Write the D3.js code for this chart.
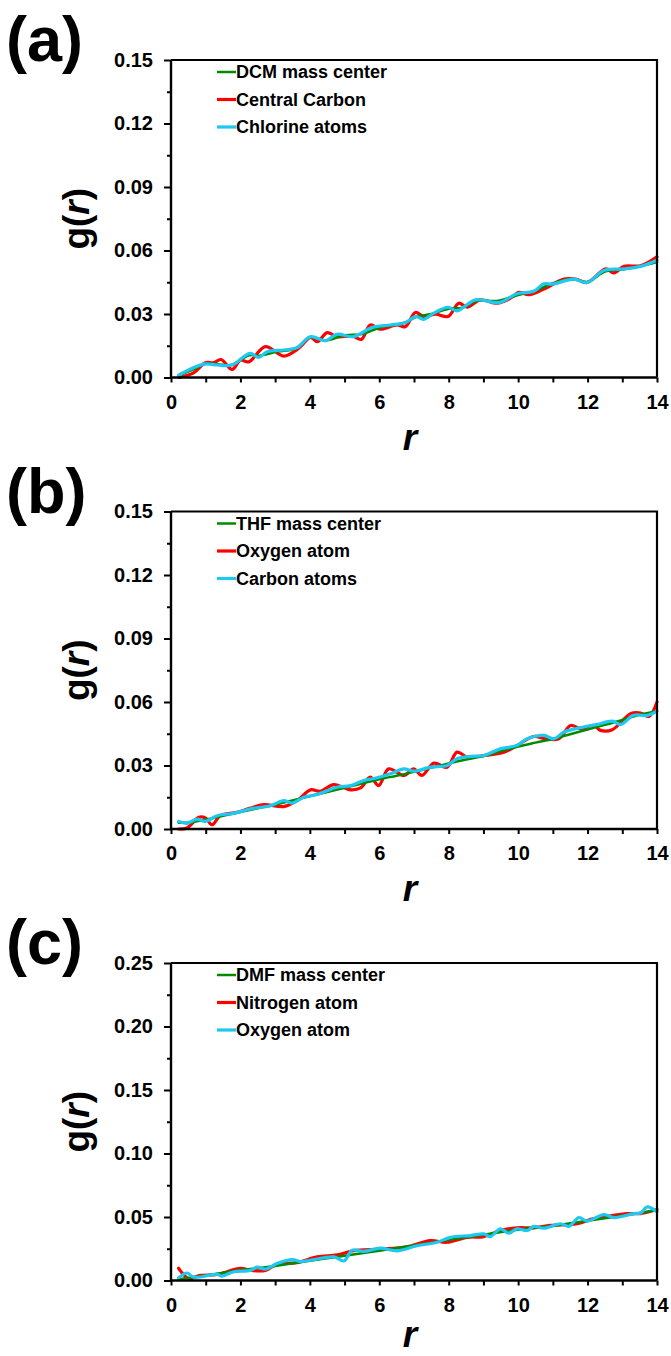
<!DOCTYPE html>
<html>
<head>
<meta charset="utf-8">
<script src="https://cdn.jsdelivr.net/npm/d3@7"></script>
<style>
  html, body { margin: 0; padding: 0; background: #ffffff; }
  svg { display: block; }
  text { font-family: "Liberation Sans", Arial, sans-serif; font-weight: bold; fill: #000; }
</style>
</head>
<body>
<svg id="chart" width="671" height="1356"></svg>
<script>
// ---------------- data ----------------
const panelLabels = ["(a)", "(b)", "(c)"];
const legendA = ["DCM mass center", "Central Carbon", "Chlorine atoms"];
const legendB = ["THF mass center", "Oxygen atom", "Carbon atoms"];
const legendC = ["DMF mass center", "Nitrogen atom", "Oxygen atom"];

const xMajorTicks = [0, 2, 4, 6, 8, 10, 12, 14];
const xMinorTicks = [1, 3, 5, 7, 9, 11, 13];
const yMajorTicksAB = [0, 0.03, 0.06, 0.09, 0.12, 0.15];
const yMinorTicksAB = [0.015, 0.045, 0.075, 0.105, 0.135];
const yMajorTicksC = [0, 0.05, 0.10, 0.15, 0.20, 0.25];
const yMinorTicksC = [0.025, 0.075, 0.125, 0.175, 0.225];

// panel (a): DCM
const greenA = [[0.22,0.001],[0.6,0.0035],[1.0,0.0065],[1.4,0.0062],[1.75,0.006],[2.25,0.0105],[2.55,0.0103],[3.0,0.012],[3.6,0.0138],[4.0,0.019],[4.45,0.0175],[5.0,0.020],[5.5,0.0205],[6.0,0.0235],[6.75,0.026],[7.05,0.0285],[7.5,0.030],[8.0,0.0325],[8.4,0.033],[8.8,0.0362],[9.4,0.0362],[10.0,0.039],[10.5,0.041],[11.0,0.0445],[11.6,0.0465],[12.0,0.0452],[12.5,0.050],[13.0,0.051],[13.5,0.0525],[14.0,0.0545]];
const redA = [[0.22,0.0],[0.65,0.0022],[0.99,0.007],[1.23,0.007],[1.44,0.0085],[1.76,0.0038],[2.0,0.0082],[2.24,0.0074],[2.72,0.0146],[3.25,0.0101],[3.68,0.0138],[4.02,0.019],[4.21,0.0169],[4.5,0.0212],[4.78,0.0193],[5.22,0.0196],[5.48,0.018],[5.74,0.0248],[6.03,0.0228],[6.51,0.0248],[6.75,0.024],[7.04,0.0307],[7.28,0.0288],[7.62,0.0299],[7.98,0.0288],[8.29,0.0351],[8.53,0.0332],[8.91,0.0367],[9.39,0.0351],[9.78,0.0375],[10.02,0.0402],[10.31,0.0391],[10.79,0.0422],[11.32,0.0465],[11.65,0.0465],[11.99,0.0449],[12.52,0.0513],[12.76,0.0494],[13.05,0.0525],[13.53,0.0528],[14.0,0.057]];
const cyanA = [[0.22,0.0011],[0.94,0.0063],[1.33,0.0059],[1.76,0.0059],[2.27,0.0114],[2.53,0.0095],[2.77,0.0122],[3.25,0.013],[3.63,0.0141],[4.02,0.0193],[4.45,0.0174],[4.78,0.0204],[5.26,0.0193],[5.79,0.0236],[6.32,0.0248],[6.75,0.0259],[7.04,0.0288],[7.28,0.0275],[7.57,0.0304],[7.98,0.0332],[8.24,0.0315],[8.77,0.0367],[9.44,0.0354],[9.97,0.0396],[10.45,0.0407],[10.74,0.0443],[10.98,0.0441],[11.6,0.0465],[11.99,0.0449],[12.47,0.0506],[13.05,0.0513],[13.53,0.0525],[14.0,0.0554]];

// panel (b): THF
const greenB = [[0.22,0.003],[0.5,0.003],[1.0,0.0045],[1.5,0.0062],[2.0,0.008],[2.5,0.0098],[3.0,0.0115],[3.5,0.0135],[4.0,0.0155],[4.5,0.0175],[5.0,0.0195],[5.5,0.0215],[6.0,0.0235],[6.5,0.0252],[7.0,0.027],[7.5,0.029],[8.0,0.031],[8.5,0.0328],[9.0,0.0345],[9.5,0.0368],[10.0,0.039],[10.5,0.0408],[11.0,0.0425],[11.5,0.0448],[12.0,0.047],[12.5,0.0492],[13.0,0.0515],[13.5,0.054],[14.0,0.0555]];
const redB = [[0.22,0.0],[0.46,0.0005],[0.8,0.0055],[0.99,0.0052],[1.18,0.002],[1.42,0.0063],[1.9,0.0079],[2.29,0.0099],[2.67,0.0115],[3.25,0.0106],[3.63,0.0134],[4.02,0.0185],[4.3,0.0178],[4.69,0.021],[5.17,0.0185],[5.46,0.0194],[5.74,0.0245],[5.98,0.0205],[6.27,0.0284],[6.71,0.0253],[6.99,0.0284],[7.23,0.0253],[7.57,0.0311],[7.95,0.0292],[8.24,0.0363],[8.53,0.034],[9.01,0.0347],[9.59,0.0363],[9.97,0.0395],[10.45,0.0437],[10.79,0.0426],[11.17,0.0426],[11.51,0.0489],[11.8,0.0474],[12.18,0.0489],[12.37,0.0466],[12.71,0.0469],[13.24,0.0545],[13.53,0.0548],[13.77,0.0532],[14.0,0.060]];
const cyanB = [[0.22,0.0035],[0.46,0.0027],[0.75,0.0047],[0.99,0.0036],[1.33,0.0063],[1.81,0.0074],[2.29,0.0095],[2.86,0.011],[3.25,0.0134],[3.49,0.0122],[3.82,0.015],[4.21,0.0163],[4.78,0.0197],[5.17,0.0205],[5.55,0.0229],[5.94,0.0242],[6.32,0.0261],[6.71,0.0284],[6.99,0.0273],[7.47,0.0292],[7.95,0.030],[8.24,0.0332],[8.63,0.0343],[9.01,0.0347],[9.49,0.0379],[9.97,0.0395],[10.26,0.0426],[10.74,0.0442],[11.03,0.0426],[11.32,0.0458],[11.89,0.0482],[12.28,0.0494],[12.71,0.051],[12.95,0.0494],[13.33,0.0537],[13.72,0.0537],[14.0,0.0557]];

// panel (c): DMF
const greenC = [[0.22,0.001],[1.0,0.004],[2.0,0.008],[3.0,0.0115],[4.0,0.0155],[5.0,0.0195],[6.0,0.0235],[7.0,0.0275],[8.0,0.032],[9.0,0.036],[10.0,0.040],[11.0,0.043],[12.0,0.047],[13.0,0.051],[14.0,0.0555]];
const redC = [[0.22,0.0096],[0.51,0.0016],[0.85,0.004],[1.33,0.0048],[2.0,0.0096],[2.29,0.008],[2.72,0.008],[3.05,0.0128],[3.63,0.0141],[4.21,0.0186],[4.78,0.0202],[5.26,0.0234],[6.03,0.0247],[6.8,0.0266],[7.47,0.0314],[7.95,0.0301],[8.53,0.034],[9.01,0.0346],[9.49,0.0394],[9.97,0.0415],[10.45,0.0415],[10.93,0.0434],[11.7,0.0447],[12.18,0.0487],[12.57,0.0505],[13.14,0.0527],[13.53,0.0527],[14.0,0.0559]];
const cyanC = [[0.22,0.0021],[0.46,0.0059],[0.65,0.0027],[1.33,0.0048],[1.47,0.0035],[1.81,0.0069],[2.29,0.008],[2.48,0.0106],[2.72,0.009],[3.05,0.0133],[3.49,0.0165],[3.73,0.0149],[4.11,0.0165],[4.69,0.0186],[4.98,0.0154],[5.22,0.0239],[5.55,0.0229],[6.03,0.0255],[6.51,0.0234],[7.09,0.0274],[7.66,0.0301],[8.05,0.034],[8.63,0.0354],[9.01,0.0367],[9.2,0.0346],[9.49,0.0407],[9.73,0.0372],[9.97,0.0407],[10.26,0.0394],[10.45,0.0426],[10.74,0.0412],[11.22,0.0447],[11.46,0.0426],[11.75,0.0495],[11.99,0.0468],[12.47,0.0519],[12.76,0.0495],[13.33,0.0527],[13.53,0.0532],[13.72,0.058],[14.0,0.054]];

// ---------------- layout ----------------
const colors = { green: "#008a00", red: "#ff0000", cyan: "#1ec8f0" };
const plotLeft = 171, plotRight = 657, plotH = 317.5;
const panelTops = [60, 511.5, 963];
const rTitleOffsets = [72, 72, 66];

const panels = [
  { label: panelLabels[0], legend: legendA, series: [greenA, redA, cyanA], yMax: 0.15, yMajor: yMajorTicksAB, yMinor: yMinorTicksAB },
  { label: panelLabels[1], legend: legendB, series: [greenB, redB, cyanB], yMax: 0.15, yMajor: yMajorTicksAB, yMinor: yMinorTicksAB },
  { label: panelLabels[2], legend: legendC, series: [greenC, redC, cyanC], yMax: 0.25, yMajor: yMajorTicksC, yMinor: yMinorTicksC }
];

const svg = d3.select("#chart");
svg.append("rect").attr("width", 671).attr("height", 1356).attr("fill", "#fff");

const x = d3.scaleLinear().domain([0, 14]).range([plotLeft, plotRight]);

panels.forEach((p, i) => {
  const top = panelTops[i], bottom = top + plotH;
  const y = d3.scaleLinear().domain([0, p.yMax]).range([bottom, top]);
  const g = svg.append("g");

  // panel letter
  g.append("text").attr("x", 6).attr("y", top + 1).attr("font-size", 63).text(p.label);

  // data lines
  const line = d3.line().x(d => x(d[0])).y(d => y(d[1])).curve(d3.curveCatmullRom.alpha(0.5));
  const order = [1, 0, 2];
  const styles = [
    { c: colors.green, w: 2.5 },
    { c: colors.red, w: 3.2 },
    { c: colors.cyan, w: 3.2 }
  ];
  order.forEach(k => {
    g.append("path").datum(p.series[k])
      .attr("d", line).attr("fill", "none")
      .attr("stroke", styles[k].c).attr("stroke-width", styles[k].w)
      .attr("stroke-linejoin", "round").attr("stroke-linecap", "round");
  });

  // frame (top & right)
  g.append("path")
    .attr("d", `M${plotLeft},${top}H${plotRight}V${bottom}`)
    .attr("fill", "none").attr("stroke", "#000").attr("stroke-width", 2.2);

  // x axis
  const xAx = g.append("g").attr("transform", `translate(0,${bottom})`)
    .call(d3.axisBottom(x).tickValues(xMajorTicks).tickSize(5).tickPadding(12).tickFormat(d3.format("d")));
  g.append("g").attr("transform", `translate(0,${bottom})`)
    .call(d3.axisBottom(x).tickValues(xMinorTicks).tickSize(5).tickFormat(""))
    .call(a => a.select(".domain").remove());

  // y axis
  const yAx = g.append("g").attr("transform", `translate(${plotLeft},0)`)
    .call(d3.axisLeft(y).tickValues(p.yMajor).tickSize(7).tickPadding(11).tickFormat(d3.format(".2f")));
  g.append("g").attr("transform", `translate(${plotLeft},0)`)
    .call(d3.axisLeft(y).tickValues(p.yMinor).tickSize(4).tickFormat(""))
    .call(a => a.select(".domain").remove());

  g.selectAll(".domain").attr("stroke", "#000").attr("stroke-width", 2.4);
  g.selectAll(".tick line").attr("stroke", "#000").attr("stroke-width", 2);
  g.selectAll(".tick text").attr("font-family", "Liberation Sans, Arial, sans-serif")
    .attr("font-weight", "bold").attr("font-size", 20).attr("fill", "#000");
  xAx.select(".domain").attr("d", `M${plotLeft},0H${plotRight}`);
  yAx.select(".domain").attr("d", `M0,${top}V${bottom}`);

  // axis titles
  g.append("text").attr("x", (plotLeft + plotRight) / 2 - 4).attr("y", bottom + rTitleOffsets[i])
    .attr("text-anchor", "middle").attr("font-size", 37).attr("font-style", "italic").text("r");

  const yt = g.append("text")
    .attr("transform", `translate(89,${(top + bottom) / 2}) rotate(-90)`)
    .attr("text-anchor", "middle").attr("font-size", 37);
  yt.append("tspan").text("g(");
  yt.append("tspan").attr("font-style", "italic").text("r");
  yt.append("tspan").text(")");

  // legend
  const legColors = [colors.green, colors.red, colors.cyan];
  const legW = [2.5, 3.2, 3.2];
  p.legend.forEach((name, k) => {
    const ly = top + 12 + k * 27.5;
    g.append("line").attr("x1", 217).attr("x2", 236).attr("y1", ly).attr("y2", ly)
      .attr("stroke", legColors[k]).attr("stroke-width", legW[k]);
    g.append("text").attr("x", 236).attr("y", ly).attr("dy", "0.36em")
      .attr("font-size", 18).text(name);
  });
});
</script>
</body>
</html>
